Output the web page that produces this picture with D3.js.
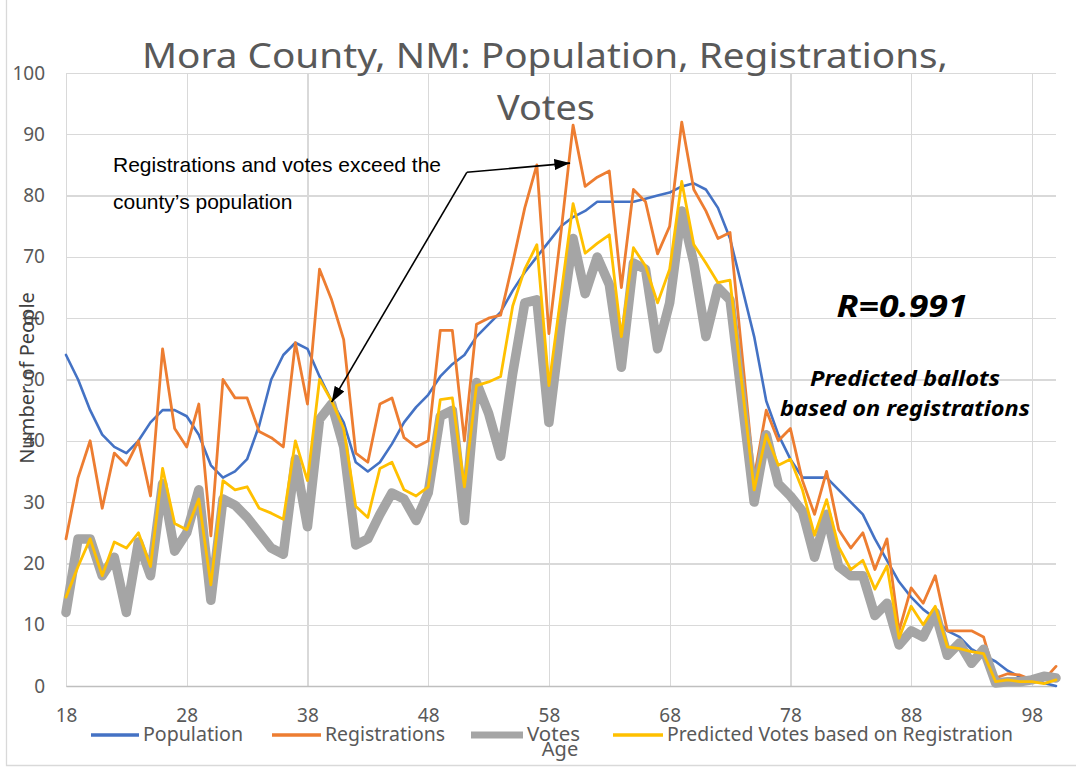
<!DOCTYPE html>
<meta charset="utf-8">
<style>

body {
    margin: 0;
    background: #fff;
}

svg {
    display: block;
    font-family: "Noto Sans", sans-serif;
}

.grid line {
    stroke: #d9d9d9;
    stroke-width: 1.3;
    shape-rendering: crispEdges;
}

.grid path {
    stroke-width: 0;
}

.series {
    fill: none;
    stroke-linejoin: round;
    stroke-linecap: round;
}

</style>
<body>
<script src="https://d3js.org/d3.v7.min.js"></script>
<script>

// ages on the x axis
var ages = [18,19,20,21,22,23,24,25,26,27,28,29,30,31,32,33,34,35,36,37,38,39,40,41,42,43,44,45,46,47,48,49,50,
    51,52,53,54,55,56,57,58,59,60,61,62,63,64,65,66,67,68,69,70,71,72,73,74,75,76,77,78,79,80,81,82,83,84,85,86,
    87,88,89,90,91,92,93,94,95,96,97,98,99,100];

var population = [54,50,45,41,39,38,40,43,45,45,44,41,36,34,35,37,42.5,50,54,56,55,50.5,46.5,43,36.5,35,36.5,
    39.5,43,45.5,47.5,50.5,52.5,54,57,59,61,64.5,67.5,70,72.5,75,76.5,77.5,79,79,79,79,79.5,80,80.5,81.5,82,81,
    78,73,65,57,46.5,41,37,34,34,34,32,30,28,24,20.5,17,14.5,12.5,11,9,8,6,5,4,2.5,1.5,1,0.5,0];

var registrations = [24,34,40,29,38,36,40,31,55,42,39,46,24.5,50,47,47,41.5,40.5,39,56,46,68,63,56.5,38,36.5,
    46,47,40.5,39,40,58,58,40,59,60,60.5,69,78,85,57.5,74,91.5,81.5,83,84,65,81,79,70.5,75,92,81,77.5,73,74,
    54,34,45,40,42,33.5,28,35,25.5,22.5,25,19,24,9,16,13.5,18,9,9,9,8,1.3,2,1.8,1,1,3.2];

var votes = [12,24,24,18,21,12,23.5,18,33,22,25,32,14,30.5,29.5,27.5,25,22.5,21.5,37,26,43.5,46,39,23,24,28,
    31.5,30.5,27,31.5,44,45,27,49.5,44.5,37.5,51,62.5,63,43,59,73,64,70,65.5,52,69,68,55,62.5,77.5,69,57,65,63,
    46.5,30,41,33,31,28.5,21,28,19.5,18,18,11.5,13.5,6.7,9,8,12,5,7,3.7,6,0.5,0.7,0.7,1,1.6,1.3];

var predicted = [14.5,19.5,24,18,23.5,22.5,25,19.5,35.5,26.5,25.5,30.5,16.5,33.5,32,32.5,29,28.2,27.2,40,33.5,
    50,46.5,42,29.3,27.5,35.5,36.5,32,31,32.5,46.7,47,32.5,49,49.6,50.5,62,68,72,49,63.8,78.7,70.6,72.2,73.6,57,
    71.5,68.5,62.5,68,82.3,72,69,65.8,66.2,49,32,41,36,37,32,24.6,30.4,22.7,19,20.5,15.8,19.6,7.8,13,10,13,6.4,
    6.1,5.6,5.3,0.7,1,0.7,0.7,0.4,1];

var seriesNames = ["Population", "Registrations", "Votes", "Predicted Votes based on Registration"];
var seriesColors = ["#4472c4", "#ed7d31", "#a5a5a5", "#ffc000"];

var xTicks = [18,28,38,48,58,68,78,88,98];
var yTicks = [0,10,20,30,40,50,60,70,80,90,100];

var width = 1076, height = 767;
var plot = {left: 66, right: 1056, top: 73, bottom: 686};

var x = d3.scaleLinear()
    .domain([18, 100])
    .range([plot.left, plot.right]);

var y = d3.scaleLinear()
    .domain([0, 100])
    .range([plot.bottom, plot.top]);

var svg = d3.select("body").append("svg")
    .attr("width", width)
    .attr("height", height);

// chart area border (only left and bottom edges are in frame)
svg.append("path")
    .attr("d", "M6.5,0V765.5H1076")
    .attr("fill", "none")
    .attr("stroke", "#d9d9d9")
    .attr("stroke-width", 1.3);

// gridlines
svg.append("g")
    .attr("class", "grid")
    .attr("transform", "translate(0," + plot.bottom + ")")
    .call(d3.axisBottom(x)
        .tickValues(xTicks)
        .tickSize(-(plot.bottom - plot.top))
        .tickFormat(""));

svg.append("g")
    .attr("class", "grid")
    .attr("transform", "translate(" + plot.left + ",0)")
    .call(d3.axisLeft(y)
        .tickValues(yTicks)
        .tickSize(-(plot.right - plot.left))
        .tickFormat(""));

// axis labels
var xAxis = svg.append("g")
    .attr("transform", "translate(0," + plot.bottom + ")")
    .call(d3.axisBottom(x).tickValues(xTicks).tickSize(0).tickPadding(23).tickFormat(d3.format("d")));
xAxis.select(".domain").attr("stroke", "#bfbfbf").attr("stroke-width", 1.3);
xAxis.attr("font-family", null).attr("font-size", 19)
    .selectAll("text").attr("fill", "#595959");

var yAxis = svg.append("g")
    .attr("transform", "translate(" + plot.left + ",0)")
    .call(d3.axisLeft(y).tickValues(yTicks).tickSize(0).tickPadding(21));
yAxis.select(".domain").remove();
yAxis.attr("font-family", null).attr("font-size", 19)
    .selectAll("text").attr("fill", "#595959");

// series
var line = d3.line()
    .x(function(d, i) { return x(ages[i]); })
    .y(function(d) { return y(d); });

var seriesData = [population, registrations, votes, predicted];
var seriesWidths = [2.6, 2.8, 9.5, 2.8];

svg.selectAll(".series")
    .data(seriesData)
    .enter().append("path")
    .attr("class", "series")
    .attr("d", line)
    .attr("stroke", function(d, i) { return seriesColors[i]; })
    .attr("stroke-width", function(d, i) { return seriesWidths[i]; });

// title
svg.append("text")
    .attr("x", 545)
    .attr("y", 68)
    .attr("text-anchor", "middle")
    .attr("font-size", 35)
    .attr("fill", "#595959")
    .attr("textLength", 806)
    .attr("lengthAdjust", "spacingAndGlyphs")
    .text("Mora County, NM: Population, Registrations,");

svg.append("text")
    .attr("x", 546)
    .attr("y", 120)
    .attr("text-anchor", "middle")
    .attr("font-size", 35)
    .attr("fill", "#595959")
    .attr("textLength", 98)
    .attr("lengthAdjust", "spacingAndGlyphs")
    .text("Votes");

// axis titles
svg.append("text")
    .attr("transform", "translate(34,378) rotate(-90)")
    .attr("text-anchor", "middle")
    .attr("font-size", 20)
    .attr("fill", "#404040")
    .text("Number of People");

svg.append("text")
    .attr("x", 560)
    .attr("y", 756)
    .attr("text-anchor", "middle")
    .attr("font-size", 20)
    .attr("fill", "#595959")
    .text("Age");

// legend
var legendLayout = [
    {lx: 91, tx: 143, tw: 100},
    {lx: 272, tx: 325, tw: 120},
    {lx: 471, tx: 527, tw: 53},
    {lx: 613, tx: 667, tw: 346}
];

var legend = svg.append("g").attr("class", "legend");
legendLayout.forEach(function(l, i) {
    legend.append("line")
        .attr("x1", l.lx).attr("x2", l.tx - 4)
        .attr("y1", 735).attr("y2", 735)
        .attr("stroke", seriesColors[i])
        .attr("stroke-width", seriesWidths[i] === 9.5 ? 7 : 3.5);
    legend.append("text")
        .attr("x", l.tx)
        .attr("y", 741)
        .attr("font-size", 19)
        .attr("fill", "#595959")
        .attr("textLength", l.tw)
        .attr("lengthAdjust", "spacingAndGlyphs")
        .text(seriesNames[i]);
});

// annotation
svg.append("text")
    .attr("x", 113)
    .attr("y", 172)
    .attr("font-family", "Liberation Sans, Arial, sans-serif")
    .attr("font-size", 21)
    .attr("fill", "#000")
    .text("Registrations and votes exceed the");

svg.append("text")
    .attr("x", 113)
    .attr("y", 209)
    .attr("font-family", "Liberation Sans, Arial, sans-serif")
    .attr("font-size", 21)
    .attr("fill", "#000")
    .text("county\u2019s population");

svg.append("defs").append("marker")
    .attr("id", "arrow")
    .attr("viewBox", "0 0 14 10")
    .attr("refX", 14)
    .attr("refY", 5)
    .attr("markerWidth", 10)
    .attr("markerHeight", 7)
    .attr("orient", "auto")
    .append("path")
    .attr("d", "M0,0L14,5L0,10z")
    .attr("fill", "#000");

// arrow start and the two points it marks, in chart units
var arrowFrom = [51.2, 83.8];
var arrowTips = [[40, 46.3], [59.75, 85.3]];

arrowTips.forEach(function(t) {
    svg.append("line")
        .attr("x1", x(arrowFrom[0])).attr("y1", y(arrowFrom[1]))
        .attr("x2", x(t[0])).attr("y2", y(t[1]))
        .attr("stroke", "#000")
        .attr("stroke-width", 1.6)
        .attr("marker-end", "url(#arrow)");
});

// correlation note
svg.append("text")
    .attr("x", 902)
    .attr("y", 317)
    .attr("text-anchor", "middle")
    .attr("font-size", 30)
    .attr("font-weight", "bold")
    .attr("font-style", "italic")
    .attr("fill", "#000")
    .attr("textLength", 131)
    .attr("lengthAdjust", "spacingAndGlyphs")
    .text("R=0.991");

svg.append("text")
    .attr("x", 905)
    .attr("y", 386)
    .attr("text-anchor", "middle")
    .attr("font-size", 22)
    .attr("font-weight", "bold")
    .attr("font-style", "italic")
    .attr("fill", "#000")
    .attr("textLength", 190)
    .attr("lengthAdjust", "spacingAndGlyphs")
    .text("Predicted ballots");

svg.append("text")
    .attr("x", 905)
    .attr("y", 416)
    .attr("text-anchor", "middle")
    .attr("font-size", 22)
    .attr("font-weight", "bold")
    .attr("font-style", "italic")
    .attr("fill", "#000")
    .attr("textLength", 250)
    .attr("lengthAdjust", "spacingAndGlyphs")
    .text("based on registrations");

</script>
